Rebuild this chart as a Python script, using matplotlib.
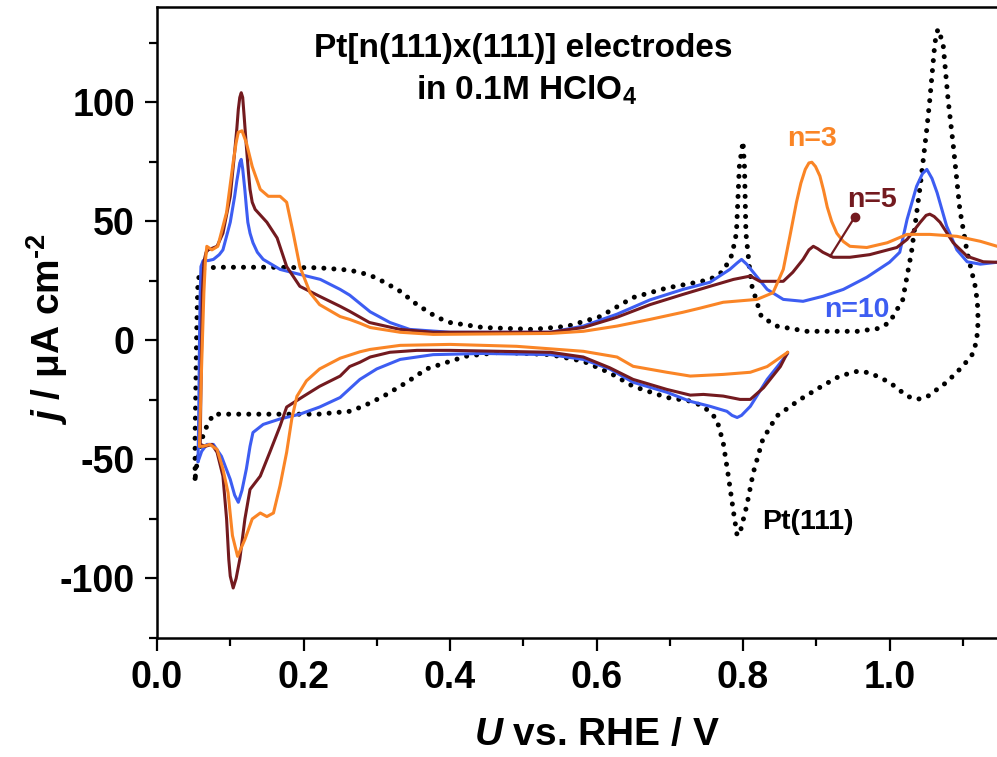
import matplotlib
matplotlib.use("Agg")
import matplotlib.pyplot as plt
from matplotlib.ticker import MultipleLocator, FixedLocator, FormatStrFormatter

plt.rcParams['font.family'] = 'Liberation Sans'
plt.rcParams['font.weight'] = 'bold'
plt.rcParams['axes.labelweight'] = 'bold'
plt.rcParams['axes.unicode_minus'] = False
plt.rcParams['mathtext.fontset'] = 'custom'
plt.rcParams['mathtext.rm'] = 'Liberation Sans:bold'
plt.rcParams['mathtext.bf'] = 'Liberation Sans:bold'
plt.rcParams['mathtext.it'] = 'Liberation Sans:italic:bold'

# Pt(111) reference CV (closed loop), U in V vs RHE, j in uA cm-2
pt111_u = [0.052, 0.052, 0.053, 0.054, 0.055, 0.056, 0.059, 0.065, 0.08, 0.15, 0.22, 0.263, 0.29, 0.31,
           0.332, 0.355, 0.382, 0.40, 0.445, 0.513, 0.56, 0.605, 0.65, 0.696, 0.737, 0.755, 0.773, 0.785,
           0.791, 0.795, 0.800, 0.802, 0.804, 0.811, 0.825, 0.846, 0.887, 0.956, 0.985, 1.0, 1.018, 1.03,
           1.042, 1.051, 1.055, 1.062, 1.066, 1.073, 1.08, 1.087, 1.096, 1.106, 1.117, 1.12, 1.121, 1.119,
           1.114, 1.1, 1.078, 1.05, 1.037, 1.024, 1.0, 0.973, 0.956, 0.932, 0.909, 0.878, 0.846, 0.827,
           0.814, 0.805, 0.796, 0.792, 0.787, 0.78, 0.773, 0.764, 0.746, 0.728, 0.696, 0.65, 0.618, 0.582,
           0.537, 0.468, 0.423, 0.40, 0.368, 0.341, 0.309, 0.282, 0.263, 0.22, 0.15, 0.077, 0.068, 0.061,
           0.054, 0.052]
pt111_j = [-58, -40, -20, 0, 15, 25, 28.6, 30.2, 30.7, 30.7, 30.5, 29.5, 27.5, 24.5,
           20.6, 15, 9.7, 7.5, 5.4, 4.6, 5.9, 10, 18, 22, 24.4, 25.6, 29, 36,
           45, 73, 83.6, 73, 45, 24, 10, 6, 3.8, 3.8, 5, 7.5, 17, 37,
           65, 89, 101, 125, 130.7, 125, 101, 82, 55, 37, 22.7, 16, 8, 0,
           -5.5, -10.9, -17.6, -24, -24.8, -23.4, -17.6, -13.6, -13, -15, -19, -24.8, -31.8, -41.6,
           -55.6, -69.6, -80.7, -82, -72, -57, -43, -33, -27.7, -25.5, -24, -19.3, -13.6, -8.8,
           -6, -5, -6.6, -8.8, -12, -17.6, -23.5, -27.6, -29.8, -31, -31, -31, -36, -41.6,
           -53, -58]

# n=10, positive and negative going scans
n10_up_u = [0.056, 0.057, 0.058, 0.059, 0.06, 0.063, 0.07, 0.077, 0.085, 0.09, 0.1, 0.106, 0.109, 0.111,
            0.113, 0.115, 0.117, 0.12, 0.122, 0.124, 0.127, 0.131, 0.137, 0.145, 0.168, 0.195, 0.223,
            0.25, 0.263, 0.277, 0.291, 0.318, 0.345, 0.40, 0.537, 0.582, 0.628, 0.673, 0.718, 0.755,
            0.782, 0.792, 0.798, 0.805, 0.814, 0.833, 0.855, 0.882, 0.909, 0.937, 0.969, 1.0, 1.014,
            1.024, 1.037, 1.045, 1.051, 1.058, 1.065, 1.078, 1.092, 1.106, 1.124, 1.147, 1.2]
n10_up_j = [-51, -30, 0, 20, 31, 33.5, 33.5, 34, 36, 38, 49.6, 60.5, 67, 70.6,
            74.5, 76, 72, 63, 56, 49.6, 45, 41, 37, 34, 29.8, 27.7, 25.6,
            21.4, 19, 15.5, 12, 7.5, 4.6, 3.4, 3.4, 6, 11, 17, 21.4, 24.4,
            29.8, 32.5, 34, 32, 28.6, 21.4, 17.2, 16.4, 18.5, 21.4, 26.5, 32.8, 37,
            50.8, 64.7, 70, 71.8, 68, 62, 48, 38, 33, 32, 32.8, 33]
n10_dn_u = [0.861, 0.847, 0.833, 0.81, 0.798, 0.792, 0.785, 0.778, 0.755, 0.728, 0.696, 0.65, 0.618,
            0.582, 0.537, 0.445, 0.377, 0.332, 0.30, 0.277, 0.25, 0.222, 0.195, 0.168, 0.145, 0.131,
            0.127, 0.122, 0.116, 0.111, 0.106, 0.1, 0.088, 0.077, 0.068, 0.061, 0.056]
n10_dn_j = [-5.5, -11, -16.4, -27.7, -31.5, -32.4, -31.5, -29.8, -27.7, -25.6, -21.8, -17.6, -12,
            -8, -6, -5.5, -6, -8, -12, -16.4, -24, -28, -31, -33, -35.3, -38.7,
            -44.5, -54, -63, -68, -65, -58.4, -48.7, -43.7, -43.7, -46.6, -51]

# n=5
n5_up_u = [0.059, 0.06, 0.061, 0.062, 0.064, 0.067, 0.07, 0.082, 0.09, 0.1, 0.106, 0.109, 0.111, 0.113,
           0.115, 0.117, 0.119, 0.122, 0.125, 0.127, 0.13, 0.134, 0.15, 0.164, 0.177, 0.195, 0.222, 0.25,
           0.263, 0.29, 0.332, 0.377, 0.537, 0.582, 0.628, 0.673, 0.718, 0.755, 0.787, 0.81, 0.823, 0.855,
           0.868, 0.882, 0.89, 0.896, 0.902, 0.909, 0.923, 0.946, 0.973, 1.01, 1.024, 1.042, 1.05, 1.055,
           1.061, 1.069, 1.087, 1.106, 1.128, 1.147, 1.2]
n5_up_j = [-43.7, -20, 0, 20, 33, 37, 38, 39.5, 45, 60.5, 79, 89, 97, 102,
           104, 102, 94, 81.5, 70, 63.4, 58, 55, 49.6, 43, 31, 22.7, 18.5, 14.3,
           12.2, 7.5, 4.6, 3.4, 3.4, 5.4, 9.7, 15, 19.3, 22.7, 25.6, 27, 24.8, 24.8,
           28.6, 34, 38, 39.5, 38.5, 37, 34.9, 34.9, 36, 39, 42.4, 49.6, 52.5, 53,
           52, 49.6, 41, 35.3, 33, 32.8, 32]
n5_dn_u = [0.861, 0.851, 0.828, 0.81, 0.796, 0.773, 0.746, 0.728, 0.696, 0.65, 0.618, 0.582, 0.537,
           0.40, 0.355, 0.318, 0.291, 0.277, 0.263, 0.25, 0.222, 0.2, 0.177, 0.168, 0.154, 0.141, 0.127,
           0.12, 0.113, 0.108, 0.104, 0.1, 0.098, 0.095, 0.09, 0.082, 0.075, 0.066, 0.059]
n5_dn_j = [-5, -11, -19.9, -24.8, -24.8, -23.4, -22.7, -23, -20.6, -16.4, -11.5, -7, -5,
           -4.2, -4.2, -5, -7, -9.2, -11, -15, -19.3, -23.5, -28, -36, -47, -57, -62.6,
           -75, -92, -100, -104, -99, -92, -75, -57, -47, -43.7, -44.5, -43.7]

# n=3
n3_up_u = [0.058, 0.06, 0.062, 0.064, 0.066, 0.068, 0.075, 0.083, 0.095, 0.104, 0.108, 0.111, 0.116,
           0.122, 0.13, 0.141, 0.152, 0.168, 0.177, 0.186, 0.195, 0.209, 0.222, 0.25, 0.263, 0.277, 0.291,
           0.332, 0.377, 0.537, 0.582, 0.628, 0.673, 0.718, 0.741, 0.773, 0.819, 0.841, 0.855, 0.864,
           0.873, 0.879, 0.885, 0.89, 0.894, 0.899, 0.905, 0.91, 0.915, 0.921, 0.928, 0.937, 0.946, 0.969,
           0.997, 1.024, 1.055, 1.092, 1.124, 1.147, 1.2]
n3_up_j = [-44.5, -20, 0, 20, 33, 39.5, 38, 39.5, 53.8, 74.8, 83, 87.4, 88,
           83, 73, 63.4, 60.5, 60.5, 58, 45, 31, 20, 15, 10, 8.8, 7.2, 5.4,
           3.4, 2.5, 2.9, 3.8, 6, 8.8, 11.8, 13.5, 16, 17.2, 20, 29.8, 43.7,
           58, 66, 71.8, 74.5, 74.8, 73, 69, 63, 56, 50, 45, 41.5, 39.5, 39,
           41, 44.5, 44.5, 43.7, 41.6, 39.5, 35]
n3_dn_u = [0.861, 0.847, 0.833, 0.81, 0.773, 0.728, 0.696, 0.65, 0.628, 0.582, 0.491, 0.40, 0.332,
           0.291, 0.277, 0.263, 0.25, 0.222, 0.204, 0.191, 0.184, 0.177, 0.168, 0.159, 0.15, 0.141,
           0.13, 0.12, 0.11, 0.103, 0.097, 0.09, 0.082, 0.072, 0.063, 0.058]
n3_dn_j = [-5, -8, -11, -13.4, -14.3, -15, -13.4, -10.9, -7, -4.6, -2.5, -1.7, -2.1,
           -3.8, -4.8, -6.2, -7.5, -12, -17, -23.5, -33, -47, -61, -72.5, -74, -72.5,
           -75, -83.6, -90.7, -82, -64, -54, -45.8, -43.7, -44.5, -44.5]

x_major = [0.0, 0.2, 0.4, 0.6, 0.8, 1.0]

c_n3 = '#FA8526'
c_n5 = '#731A1F'
c_n10 = '#3D5DF2'

fig = plt.figure(figsize=(9.97, 7.57), dpi=100)
ax = fig.add_axes([157 / 997, 119 / 757, 879 / 997, 631 / 757])

ax.plot(pt111_u, pt111_j, color='black', lw=3.6, linestyle=(0, (0.01, 2.0)),
        dash_capstyle='round', zorder=2)
lw = 2.2
curves = [(n10_up_u, n10_up_j, c_n10, 3), (n10_dn_u, n10_dn_j, c_n10, 3),
          (n5_up_u, n5_up_j, c_n5, 4), (n5_dn_u, n5_dn_j, c_n5, 4),
          (n3_up_u, n3_up_j, c_n3, 5), (n3_dn_u, n3_dn_j, c_n3, 5)]
for u, j, c, z in curves:
    ax.plot(u, j, color=c, lw=lw, zorder=z, solid_joinstyle='round', solid_capstyle='round')

# pointer for the n=5 label
ax.plot([0.919, 0.953], [35.3, 52], color=c_n5, lw=1.6, zorder=6)
ax.plot([0.953], [52], 'o', color=c_n5, ms=6, zorder=6)

ax.text(0.50, 118.9, 'Pt[n(111)x(111)] electrodes', ha='center', va='baseline', fontsize=24)
ax.text(0.505, 101.3, r'in 0.1M HClO$_4$', ha='center', va='baseline', fontsize=24)
ax.text(0.894, 81.5, 'n=3', color=c_n3, ha='center', va='baseline', fontsize=20.5)
ax.text(0.976, 55.9, 'n=5', color=c_n5, ha='center', va='baseline', fontsize=20.5)
ax.text(0.956, 10, 'n=10', color=c_n10, ha='center', va='baseline', fontsize=20.5)
ax.text(0.826, -79.2, 'Pt(111)', color='black', ha='left', va='baseline', fontsize=20.5)

ax.set_xlim(0, 1.2)
ax.set_ylim(-125, 140)
ax.xaxis.set_major_locator(FixedLocator(x_major))
ax.xaxis.set_minor_locator(MultipleLocator(0.1))
ax.yaxis.set_major_locator(MultipleLocator(50))
ax.yaxis.set_minor_locator(MultipleLocator(25))
ax.xaxis.set_major_formatter(FormatStrFormatter('%.1f'))
ax.tick_params(which='major', direction='out', length=9, width=1.6, labelsize=27, pad=7)
ax.tick_params(which='minor', direction='out', length=5.5, width=1.6)
ax.tick_params(top=False, right=False)
for s in ax.spines.values():
    s.set_linewidth(1.8)

ax.set_xlabel(r'$\mathit{U}$ vs. RHE / V', fontsize=28)
ax.set_ylabel(r'$\mathit{j}$ / μA cm$^{\text{-2}}$', fontsize=28)
ax.xaxis.set_label_coords(0.5, -0.125)
ax.yaxis.set_label_coords(-0.099, 0.49)

fig.savefig('out.png', dpi=100)
